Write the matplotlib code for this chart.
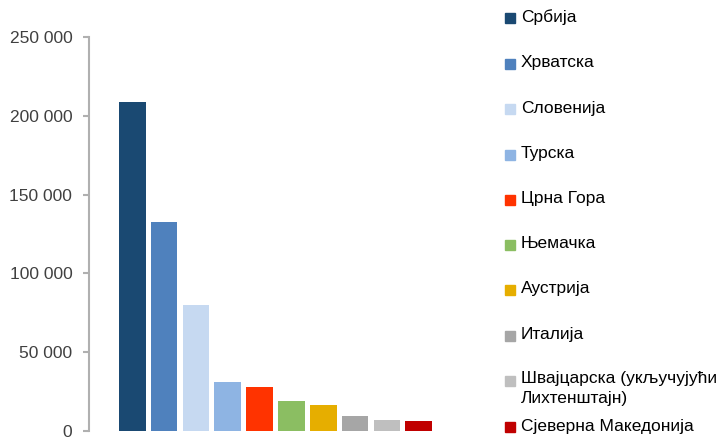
import matplotlib.pyplot as plt
from matplotlib.patches import Rectangle

# Countries and counts
countries = ["Србија", "Хрватска", "Словенија", "Турска", "Црна Гора",
             "Њемачка", "Аустрија", "Италија",
             "Швајцарска (укључујући\nЛихтенштајн)", "Сјеверна Македонија"]
values = [208800, 132600, 79900, 31100, 27900, 19000, 16500, 9500, 7000, 6300]
colors = ["#1a4972", "#4f81bd", "#c6d9f1", "#8eb4e3", "#ff3300",
          "#8bbe62", "#e6ae00", "#a6a6a6", "#bfbfbf", "#c00000"]
yticks = [0, 50000, 100000, 150000, 200000, 250000]
ytick_labels = ["0", "50 000", "100 000", "150 000", "200 000", "250 000"]

plt.rcParams['font.family'] = ["Liberation Sans", "DejaVu Sans"]

fig = plt.figure(figsize=(7.2, 4.38), dpi=100)
ax = fig.add_axes([89 / 720, 1 - 431 / 438, (462 - 89) / 720, (431 - 37) / 438])

x = range(len(values))
ax.bar(x, values, width=0.84, color=colors)

ax.set_xlim(-1.36, len(values) - 1 + 1.36)
ax.set_ylim(0, 250000)
ax.set_yticks(yticks)
ax.set_yticklabels(ytick_labels, fontsize=12.5, color="#404040")
ax.set_xticks([])

for side in ["top", "right", "bottom"]:
    ax.spines[side].set_visible(False)
ax.spines["left"].set_color("#b0b0b0")
ax.spines["left"].set_linewidth(1.5)
ax.tick_params(axis="y", direction="out", length=4, width=1.5,
               color="#b0b0b0", pad=8)

# Legend drawn by hand, one row per country
row_y = [18, 64, 109, 155, 200, 245, 290, 336, 381, 427]
for name, col, yp in zip(countries, colors, row_y):
    fig.patches.append(Rectangle((505 / 720, 1 - (yp + 5) / 438), 10 / 720, 10 / 438,
                                 transform=fig.transFigure, color=col))
    if "\n" in name:
        fig.text(521 / 720, 1 - (yp - 10) / 438, name, fontsize=12.5,
                 color="black", va="top", ha="left", linespacing=1.45)
    else:
        fig.text(521 / 720, 1 - (yp - 1) / 438, name, fontsize=12.5,
                 color="black", va="center", ha="left")

fig.savefig("out.png", dpi=100)
